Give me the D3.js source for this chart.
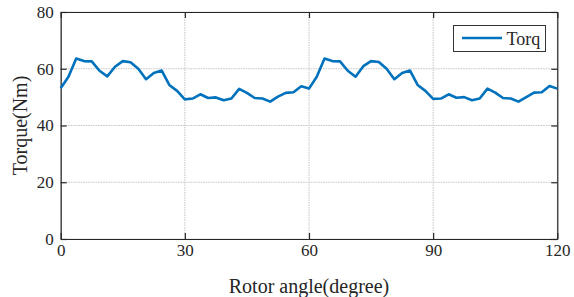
<!DOCTYPE html>
<html lang="en">
<head>
  <meta charset="UTF-8">
  <title>Torque</title>
  <style>
    body { margin: 0; background: #fff; }
    svg { display: block; }
    svg text { font-family: "Liberation Serif", "Times New Roman", serif; }
  </style>
</head>
<body>
  <svg id="chart" width="574" height="297"></svg>
  <script src="https://cdn.jsdelivr.net/npm/d3@7"></script>
  <script>
    // sample step in degrees (64 steps over 120 deg)
    const angleStep = 1.875
    const torque = [
      53.1, 57.2, 63.6, 62.7, 62.6, 59.3, 57.3, 60.7, 62.7, 62.3, 60.0, 56.3, 58.5, 59.4, 54.3, 52.2,
      49.2, 49.5, 51.0, 49.7, 49.9, 48.9, 49.5, 52.9, 51.5, 49.7, 49.5, 48.4, 50.2, 51.5, 51.7, 53.8,
      53.0, 57.2, 63.6, 62.7, 62.6, 59.3, 57.2, 60.9, 62.7, 62.4, 60.0, 56.3, 58.5, 59.4, 54.3, 52.2,
      49.4, 49.5, 51.0, 49.8, 50.0, 48.9, 49.5, 53.0, 51.6, 49.7, 49.5, 48.4, 50.0, 51.6, 51.7, 53.9,
      53.0
    ]
    const xTicks = [0, 30, 60, 90, 120]
    const yTicks = [0, 20, 40, 60, 80]

    const svg = d3.select('#chart')
    const m = { left: 60.7, right: 557.3, top: 12, bottom: 239 }
    const x = d3.scaleLinear().domain([0, 120]).range([m.left, m.right])
    const y = d3.scaleLinear().domain([0, 80]).range([m.bottom, m.top])
    const ink = '#262626'

    // grid
    const grid = svg.append('g').attr('stroke', '#c4c4c4').attr('stroke-width', 1).attr('stroke-dasharray', '1.5,1')
    grid.selectAll('.gx').data(xTicks).enter().append('line')
      .attr('x1', d => x(d)).attr('x2', d => x(d)).attr('y1', m.top).attr('y2', m.bottom)
    grid.selectAll('.gy').data(yTicks).enter().append('line')
      .attr('x1', m.left).attr('x2', m.right).attr('y1', d => y(d)).attr('y2', d => y(d))

    // axes, ticks inward on all four sides
    const tl = 6
    svg.append('g').attr('transform', `translate(0,${m.bottom})`)
      .call(d3.axisBottom(x).tickValues(xTicks).tickSizeInner(-tl).tickSizeOuter(0).tickPadding(5))
    svg.append('g').attr('transform', `translate(0,${m.top})`)
      .call(d3.axisTop(x).tickValues(xTicks).tickSizeInner(-tl).tickSizeOuter(0).tickFormat(''))
    svg.append('g').attr('transform', `translate(${m.left},0)`)
      .call(d3.axisLeft(y).tickValues(yTicks).tickSizeInner(-tl).tickSizeOuter(0).tickPadding(7))
    svg.append('g').attr('transform', `translate(${m.right},0)`)
      .call(d3.axisRight(y).tickValues(yTicks).tickSizeInner(-tl).tickSizeOuter(0).tickFormat(''))

    svg.selectAll('.domain').attr('stroke', ink).attr('stroke-width', 1.2)
    svg.selectAll('.tick line').attr('stroke', ink).attr('stroke-width', 1.2)
    svg.selectAll('.tick text').attr('fill', ink)
      .style('font-size', '17px')
      .style('font-family', '"Liberation Serif", serif')

    // line
    const line = d3.line().x((d, i) => x(i * angleStep)).y(d => y(d))
    svg.append('path').datum(torque)
      .attr('fill', 'none').attr('stroke', '#0072BD').attr('stroke-width', 2.6)
      .attr('stroke-linejoin', 'round').attr('d', line)

    // labels
    svg.append('text').attr('x', (m.left + m.right) / 2).attr('y', 293)
      .attr('text-anchor', 'middle').style('font-size', '20px').attr('fill', ink)
      .text('Rotor angle(degree)')
    svg.append('text').attr('transform', `translate(26.5,${(m.top + m.bottom) / 2}) rotate(-90)`)
      .attr('text-anchor', 'middle').style('font-size', '20px').attr('fill', ink)
      .text('Torque(Nm)')

    // legend
    const lg = svg.append('g')
    lg.append('rect').attr('x', 453.5).attr('y', 25.5).attr('width', 92).attr('height', 26)
      .attr('fill', '#fff').attr('stroke', '#333').attr('stroke-width', 1)
    lg.append('line').attr('x1', 462).attr('x2', 502).attr('y1', 38).attr('y2', 38)
      .attr('stroke', '#0072BD').attr('stroke-width', 2.6)
    lg.append('text').attr('x', 506.5).attr('y', 45).style('font-size', '18px').attr('fill', ink).text('Torq')
  </script>
</body>
</html>
